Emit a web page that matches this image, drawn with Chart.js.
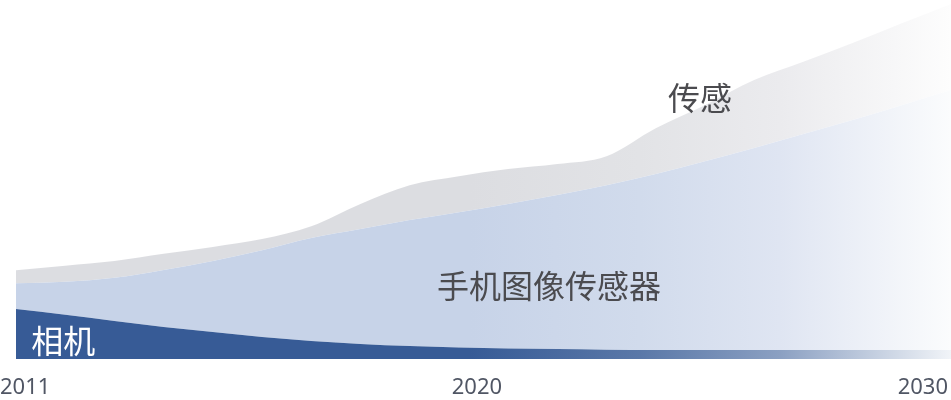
<!DOCTYPE html>
<html>
<head>
<meta charset="utf-8">
<script src="https://cdn.jsdelivr.net/npm/chart.js@4/dist/chart.umd.min.js"></script>
<style>
  html, body { margin: 0; padding: 0; background: #fff; overflow: hidden; }
  canvas { display: block; }
</style>
</head>
<body>
<canvas id="areaChart" width="951" height="400"></canvas>
<script>
// years on the x axis
var years = [2011, 2012, 2013, 2014, 2015, 2016, 2017, 2018, 2019, 2020,
             2021, 2022, 2023, 2024, 2025, 2026, 2027, 2028, 2029, 2030];
var tickYears = [2011, 2020, 2030];

// stacked layers, bottom to top
var camera  = [13.9, 12.3, 10.6, 8.9, 7.5, 6.1, 5.0, 4.2, 3.6, 3.2,
               2.9, 2.8, 2.6, 2.5, 2.5, 2.5, 2.5, 2.5, 2.5, 2.5];
var phone   = [7.2, 9.2, 12.0, 15.9, 19.8, 24.2, 28.7, 32.0, 35.1, 37.7,
               40.3, 42.9, 45.8, 49.0, 52.6, 56.3, 60.2, 64.1, 68.2, 72.4];
var sensing = [3.6, 4.5, 4.7, 4.5, 3.9, 3.1, 3.3, 7.0, 9.7, 10.0,
               9.7, 8.6, 8.1, 12.8, 15.6, 18.9, 20.1, 21.4, 22.8, 24.0];

var seriesNames = ['相机', '手机图像传感器', '传感'];
// label anchors in data units: [year, value]
var labelAt = [[2011.96, 5.0], [2021.83, 20.3], [2024.9, 72.7]];

var colors = ['#375b96', '#c7d3e8', '#dcdde1'];
var labelColors = ['#ffffff', '#4b4b4f', '#4b4b4f'];

function hexRgb(h) {
    return [parseInt(h.substr(1, 2), 16), parseInt(h.substr(3, 2), 16), parseInt(h.substr(5, 2), 16)];
}

function towardWhite(h, m) {
    var c = hexRgb(h);
    return 'rgb(' + c.map(function(v) { return Math.round(v + (255 - v) * m); }).join(',') + ')';
}

// fill fades to white toward the right edge
function fadeFill(base) {
    return function(ctx) {
        var chart = ctx.chart, a = chart.chartArea;
        if (!a) return base;
        var g = chart.ctx.createLinearGradient(a.left, 0, a.right, 0);
        g.addColorStop(0, base);
        g.addColorStop(0.486, base);
        g.addColorStop(0.667, towardWhite(base, 0.175));
        g.addColorStop(0.817, towardWhite(base, 0.42));
        g.addColorStop(1, towardWhite(base, 0.93));
        return g;
    };
}

function points(arr) {
    return arr.map(function(v, i) { return { x: years[i], y: v }; });
}

var areaLabels = {
    id: 'areaLabels',
    afterDatasetsDraw: function(chart) {
        var c = chart.ctx, xs = chart.scales.x, ys = chart.scales.y;
        c.save();
        c.font = '32px "Noto Sans CJK SC", "Noto Sans", sans-serif';
        c.textAlign = 'center';
        c.textBaseline = 'middle';
        for (var i = 0; i < seriesNames.length; i++) {
            c.fillStyle = labelColors[i];
            c.fillText(seriesNames[i], xs.getPixelForValue(labelAt[i][0]), ys.getPixelForValue(labelAt[i][1]));
        }
        c.restore();
    }
};

// small horizontal nudges of the year labels, as in the original artwork
var tickNudge = {
    id: 'tickNudge',
    beforeDraw: function(chart) {
        var shift = [-16, 18, -3];
        var items = chart.scales.x.getLabelItems(chart.chartArea);
        items.forEach(function(it, i) {
            if (shift[i]) it.options.translation[0] += shift[i];
        });
    }
};

var layers = [camera, phone, sensing];
var ctx = document.getElementById('areaChart').getContext('2d');
var chart = new Chart(ctx, {
    type: 'line',
    data: {
        datasets: layers.map(function(arr, i) {
            return {
                label: seriesNames[i],
                data: points(arr),
                fill: i === 0 ? 'origin' : '-1',
                backgroundColor: fadeFill(colors[i]),
                borderWidth: 0,
                pointRadius: 0,
                cubicInterpolationMode: 'monotone'
            };
        })
    },
    options: {
        responsive: false,
        devicePixelRatio: 1,
        animation: false,
        layout: { padding: { left: 16, right: 0, top: 0, bottom: 0 } },
        plugins: { legend: { display: false }, tooltip: { enabled: false } },
        scales: {
            x: {
                type: 'linear',
                min: 2011,
                max: 2030,
                // invisible tick marks only push the labels down
                grid: { display: true, drawOnChartArea: false, drawTicks: true, tickLength: 16, color: 'rgba(0,0,0,0)' },
                border: { display: false },
                afterBuildTicks: function(axis) {
                    axis.ticks = tickYears.map(function(v) { return { value: v }; });
                },
                afterFit: function(axis) {
                    axis.height = 41;
                },
                ticks: {
                    align: 'inner',
                    padding: 0,
                    color: '#505664',
                    font: { family: '"Noto Sans", sans-serif', size: 22 },
                    maxRotation: 0,
                    callback: function(v) { return String(v); }
                }
            },
            y: {
                stacked: true,
                min: 0,
                max: 100,
                display: false
            }
        }
    },
    plugins: [areaLabels, tickNudge]
});
</script>
</body>
</html>
